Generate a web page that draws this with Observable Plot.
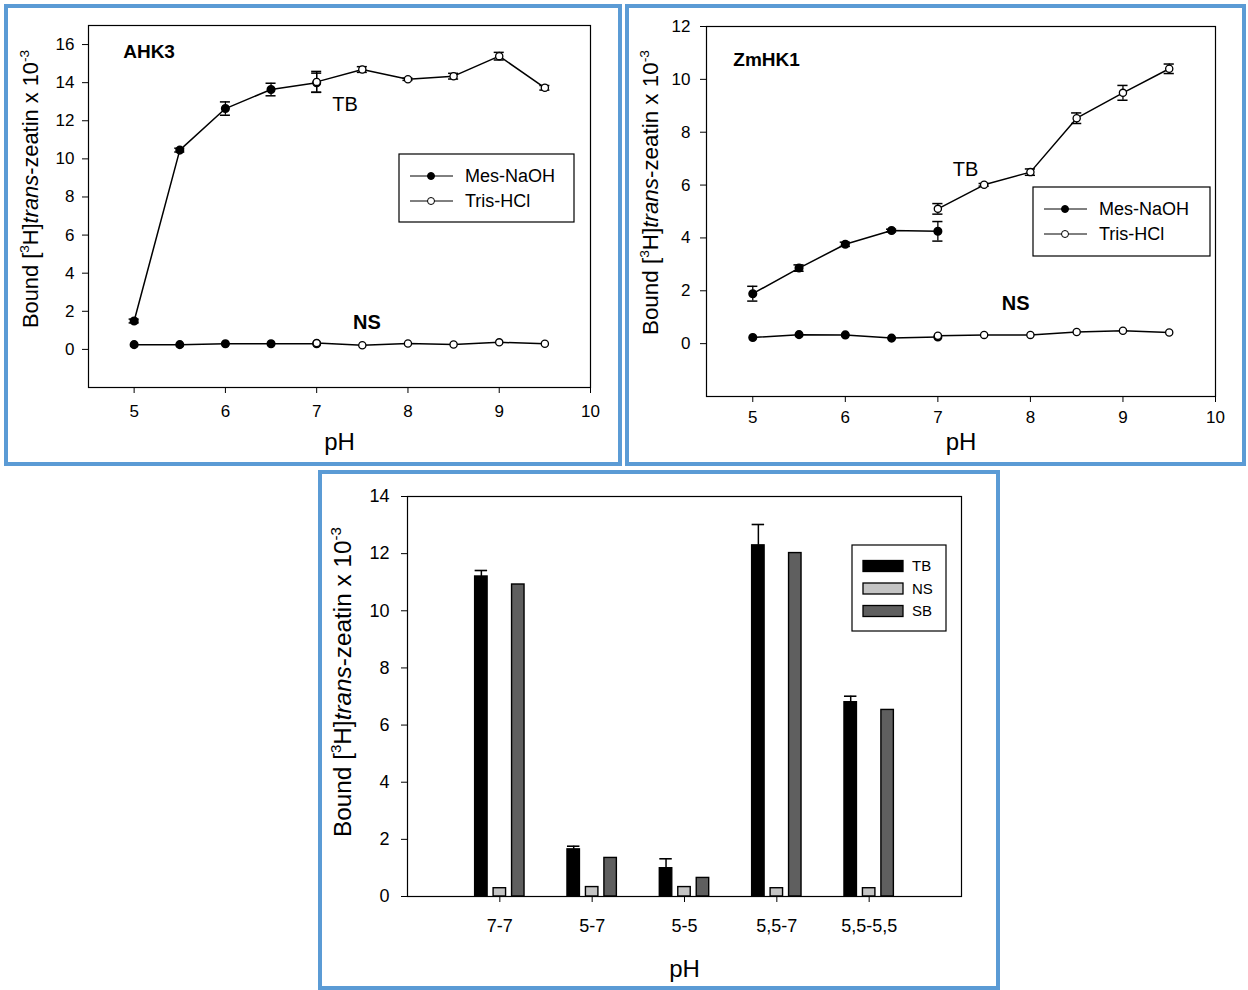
<!DOCTYPE html>
<html>
<head>
<meta charset="utf-8">
<script src="https://cdn.jsdelivr.net/npm/d3@7"></script>
<script src="https://cdn.jsdelivr.net/npm/@observablehq/plot@0.6"></script>
<style>
  body { margin: 0; background: #fff; }
  #page { position: relative; width: 1248px; height: 990px; font-family: "Liberation Sans", Arial, sans-serif; }
  .panel { position: absolute; box-sizing: border-box; border: 4px solid #5b9bd5; background: #fff; }
  .panel svg { position: absolute; left: 0; top: 0; overflow: visible; }
  .panel g[aria-label="x-axis label"] text { font-size: 24px; }
</style>
</head>
<body>
<div id="page"></div>
<script>
// pH values measured in each buffer
const phMes = [5, 5.5, 6, 6.5, 7];
const phTris = [7, 7.5, 8, 8.5, 9, 9.5];

// AHK3: total binding (TB) and non-specific binding (NS)
const ahk3TbMes = [1.49, 10.46, 12.64, 13.64, 14.0];
const ahk3TbMesErr = [0.1, 0.1, 0.35, 0.33, 0.5];
const ahk3TbTris = [14.04, 14.69, 14.18, 14.34, 15.39, 13.73];
const ahk3TbTrisErr = [0.55, 0.15, 0.06, 0.15, 0.2, 0.12];
const ahk3NsMes = [0.25, 0.25, 0.3, 0.3, 0.3];
const ahk3NsTris = [0.33, 0.22, 0.31, 0.26, 0.37, 0.3];

// ZmHK1: total binding (TB) and non-specific binding (NS)
const zmTbMes = [1.89, 2.86, 3.76, 4.28, 4.25];
const zmTbMesErr = [0.28, 0.12, 0.08, 0.05, 0.37];
const zmTbTris = [5.1, 6.01, 6.49, 8.53, 9.49, 10.4];
const zmTbTrisErr = [0.2, 0.05, 0.12, 0.2, 0.28, 0.18];
const zmNsMes = [0.23, 0.34, 0.33, 0.21, 0.25];
const zmNsTris = [0.3, 0.33, 0.33, 0.44, 0.49, 0.42];

// pH pairs: total, non-specific and specific binding
const pairs = ["7-7", "5-7", "5-5", "5,5-7", "5,5-5,5"];
const tb = [11.2, 1.65, 0.99, 12.29, 6.8];
const tbErr = [0.21, 0.11, 0.33, 0.73, 0.21];
const ns = [0.29, 0.33, 0.33, 0.29, 0.29];
const sb = [10.92, 1.35, 0.65, 12.02, 6.53];

const FONT = "Liberation Sans, Arial, sans-serif";
const page = document.getElementById("page");

function panel(left, top, width, height) {
  const div = document.createElement("div");
  div.className = "panel";
  Object.assign(div.style, {left: left + "px", top: top + "px", width: width + "px", height: height + "px"});
  page.appendChild(div);
  return div;
}

// rotated y-axis title with superscripts and italic "trans"
function yTitle(svg, x, y, size, length) {
  const t = d3.select(svg).append("text")
    .attr("transform", `translate(${x},${y}) rotate(-90)`)
    .attr("text-anchor", "start")
    .attr("font-size", size).attr("font-family", FONT).attr("fill", "#000")
    .attr("textLength", length).attr("lengthAdjust", "spacingAndGlyphs");
  const sup = size * 0.62, rise = size * 0.42;
  t.append("tspan").text("Bound [");
  t.append("tspan").attr("font-size", sup).attr("dy", -rise).text("3");
  t.append("tspan").attr("dy", rise).text("H]");
  t.append("tspan").attr("font-style", "italic").text("trans");
  t.append("tspan").text("-zeatin x 10");
  t.append("tspan").attr("font-size", sup).attr("dy", -rise).text("-3");
}

// buffer legend: line with filled / open marker
function bufferLegend(svg, x, y, w, h) {
  const g = d3.select(svg).append("g").attr("font-family", FONT).attr("font-size", 18)
    .attr("text-anchor", "start");
  g.append("rect").attr("x", x).attr("y", y).attr("width", w).attr("height", h)
    .attr("fill", "#fff").attr("stroke", "#000").attr("stroke-width", 1.2);
  [["Mes-NaOH", "#000"], ["Tris-HCl", "#fff"]].forEach(([name, fill], i) => {
    const cy = y + 22 + i * 25;
    g.append("line").attr("x1", x + 11).attr("x2", x + 54).attr("y1", cy).attr("y2", cy).attr("stroke", "#000");
    g.append("circle").attr("cx", x + 32).attr("cy", cy).attr("r", 3.5).attr("fill", fill).attr("stroke", "#000");
    g.append("text").attr("x", x + 66).attr("y", cy).attr("dy", "0.35em").text(name);
  });
}

function linePanel(opts) {
  const {tbMes, tbMesErr, tbTris, tbTrisErr, nsMes, nsTris, yDomain, yTicks, title, notes,
         width, height, margin, xPad, yPad, labelOffset, capHalf} = opts;
  const rows = (ph, v, e) => ph.map((p, i) => ({ph: p, v: v[i], e: e ? e[i] : 0}));
  const mesTb = rows(phMes, tbMes, tbMesErr);
  const trisTb = rows(phTris, tbTris, tbTrisErr);
  const mesNs = rows(phMes, nsMes);
  const trisNs = rows(phTris, nsTris);
  const errs = [...mesTb, ...trisTb];
  return Plot.plot({
    width, height,
    marginTop: margin[0], marginRight: margin[1], marginBottom: margin[2], marginLeft: margin[3],
    style: {fontFamily: FONT, fontSize: "17px", color: "#000", background: "transparent"},
    x: {domain: [4.5, 10]},
    y: {domain: yDomain},
    marks: [
      Plot.frame({stroke: "#000", strokeWidth: 1.2}),
      Plot.axisX({ticks: d3.range(5, 11), tickFormat: d3.format("d"), tickSize: 6, tickPadding: xPad, fontSize: 17,
                  label: "pH", labelAnchor: "center", labelArrow: "none", labelOffset}),
      Plot.axisY({ticks: yTicks, tickFormat: d3.format("d"), tickSize: 6, tickPadding: yPad, fontSize: 17, label: null}),
      Plot.line(mesTb, {x: "ph", y: "v", stroke: "#000"}),
      Plot.line(trisTb, {x: "ph", y: "v", stroke: "#000"}),
      Plot.line(mesNs, {x: "ph", y: "v", stroke: "#000"}),
      Plot.line(trisNs, {x: "ph", y: "v", stroke: "#000"}),
      Plot.ruleX(errs, {x: "ph", y1: d => d.v - d.e, y2: d => d.v + d.e, stroke: "#000", strokeWidth: 1.3}),
      Plot.ruleY(errs, {x1: d => d.ph - capHalf, x2: d => d.ph + capHalf, y: d => d.v + d.e, stroke: "#000", strokeWidth: 1.5}),
      Plot.ruleY(errs, {x1: d => d.ph - capHalf, x2: d => d.ph + capHalf, y: d => d.v - d.e, stroke: "#000", strokeWidth: 1.5}),
      Plot.dot([...mesTb, ...mesNs], {x: "ph", y: "v", r: 3.8, fill: "#000", stroke: "#000"}),
      Plot.dot([...trisTb, ...trisNs], {x: "ph", y: "v", r: 3.6, fill: "#fff", stroke: "#000", strokeWidth: 1.3}),
      Plot.text([title], {x: "x", y: "y", text: "text", textAnchor: "start", fontWeight: "bold",
                          fontSize: 19, lineAnchor: "middle", fill: "#000"}),
      Plot.text(notes.filter(d => !d.bold), {x: "x", y: "y", text: "text", textAnchor: "middle",
                          fontSize: 20, lineAnchor: "middle", fill: "#000"}),
      Plot.text(notes.filter(d => d.bold), {x: "x", y: "y", text: "text", textAnchor: "middle", fontWeight: "bold",
                          fontSize: 20, lineAnchor: "middle", fill: "#000"})
    ]
  });
}

// ---- AHK3 ----
const pA = panel(4, 4, 618, 462);
const svgA = linePanel({
  tbMes: ahk3TbMes, tbMesErr: ahk3TbMesErr, tbTris: ahk3TbTris, tbTrisErr: ahk3TbTrisErr,
  nsMes: ahk3NsMes, nsTris: ahk3NsTris,
  yDomain: [-2, 17], yTicks: d3.range(0, 17, 2),
  title: {x: 4.88, y: 15.6, text: "AHK3"},
  notes: [
    {x: 7.31, y: 12.84, text: "TB", bold: false},
    {x: 7.55, y: 1.43, text: "NS", bold: true}
  ],
  width: 610, height: 454, margin: [17, 28, 75, 80], xPad: 11, yPad: 8, labelOffset: 62, capHalf: 0.055
});
pA.appendChild(svgA);
yTitle(svgA, 30, 320, 22, 278);
bufferLegend(svgA, 391, 146, 175, 68);

// ---- ZmHK1 ----
const pB = panel(625, 4, 621, 462);
const svgB = linePanel({
  tbMes: zmTbMes, tbMesErr: zmTbMesErr, tbTris: zmTbTris, tbTrisErr: zmTbTrisErr,
  nsMes: zmNsMes, nsTris: zmNsTris,
  yDomain: [-2, 12], yTicks: d3.range(0, 13, 2),
  title: {x: 4.79, y: 10.73, text: "ZmHK1"},
  notes: [
    {x: 7.30, y: 6.6, text: "TB", bold: false},
    {x: 7.84, y: 1.5, text: "NS", bold: true}
  ],
  width: 613, height: 454, margin: [18, 27, 66, 77], xPad: 8, yPad: 10, labelOffset: 53, capHalf: 0.055
});
pB.appendChild(svgB);
yTitle(svgB, 29, 327, 22, 285);
bufferLegend(svgB, 404, 179, 177, 69);

// ---- pH pairs bar chart ----
const pC = panel(318, 470, 682, 520);
const kinds = ["TB", "NS", "SB"];
const kindFill = ["#000000", "#c4c4c4", "#5f5f5f"];
const offset = {TB: -0.2, NS: 0, SB: 0.2};
const bw = 0.135;
const barRows = pairs.flatMap((p, i) => [
  {pos: i + 1, kind: "TB", v: tb[i], e: tbErr[i]},
  {pos: i + 1, kind: "NS", v: ns[i], e: 0},
  {pos: i + 1, kind: "SB", v: sb[i], e: 0}
]);
const tbRows = barRows.filter(d => d.kind === "TB");
const svgC = Plot.plot({
  width: 674, height: 512,
  marginTop: 22, marginRight: 35, marginBottom: 90, marginLeft: 85,
  style: {fontFamily: FONT, fontSize: "18px", color: "#000", background: "transparent"},
  x: {domain: [0, 6]},
  y: {domain: [0, 14]},
  color: {domain: kinds, range: kindFill},
  marks: [
    Plot.rect(barRows, {
      x1: d => d.pos + offset[d.kind] - bw / 2, x2: d => d.pos + offset[d.kind] + bw / 2,
      y1: 0, y2: "v", fill: "kind", stroke: "#000", strokeWidth: 1.4
    }),
    Plot.ruleX(tbRows, {x: d => d.pos + offset.TB, y1: "v", y2: d => d.v + d.e, stroke: "#000", strokeWidth: 1.5}),
    Plot.ruleY(tbRows, {x1: d => d.pos + offset.TB - bw / 2, x2: d => d.pos + offset.TB + bw / 2,
                        y: d => d.v + d.e, stroke: "#000", strokeWidth: 1.6}),
    Plot.frame({stroke: "#000", strokeWidth: 1.2}),
    Plot.axisX({ticks: d3.range(1, 6), tickFormat: i => pairs[i - 1], tickSize: 6, tickPadding: 17, fontSize: 18,
                label: "pH", labelAnchor: "center", labelArrow: "none", labelOffset: 80}),
    Plot.axisY({ticks: d3.range(0, 15, 2), tickSize: 6, tickPadding: 12, fontSize: 18, label: null})
  ]
});
pC.appendChild(svgC);
yTitle(svgC, 29, 363, 23, 310);

// bar legend
{
  const g = d3.select(svgC).append("g").attr("font-family", FONT).attr("font-size", 15)
    .attr("text-anchor", "start");
  g.append("rect").attr("x", 530).attr("y", 71).attr("width", 94).attr("height", 86)
    .attr("fill", "#fff").attr("stroke", "#000").attr("stroke-width", 1.2);
  kinds.forEach((k, i) => {
    const cy = 92 + i * 22.5;
    g.append("rect").attr("x", 541).attr("y", cy - 5.5).attr("width", 40).attr("height", 11)
      .attr("fill", kindFill[i]).attr("stroke", "#000").attr("stroke-width", 1.3);
    g.append("text").attr("x", 590).attr("y", cy).attr("dy", "0.35em").text(k);
  });
}
</script>
</body>
</html>
